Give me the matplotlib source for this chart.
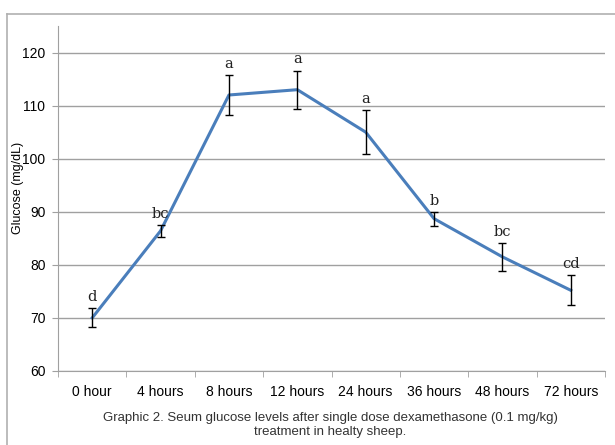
import matplotlib
matplotlib.use('Agg')
import matplotlib.pyplot as plt
from matplotlib.lines import Line2D

# time points, mean glucose, error, significance letters
times = ['0 hour', '4 hours', '8 hours', '12 hours', '24 hours', '36 hours', '48 hours', '72 hours']
glucose = [70.0, 86.4, 112.0, 113.0, 105.0, 88.7, 81.5, 75.2]
err = [1.8, 1.1, 3.7, 3.6, 4.2, 1.3, 2.6, 2.8]
letters = ['d', 'bc', 'a', 'a', 'a', 'b', 'bc', 'cd']
yticks = [60, 70, 80, 90, 100, 110, 120]

plt.rcParams['font.family'] = ['Liberation Sans', 'DejaVu Sans']

fig = plt.figure(figsize=(6.15, 4.45), dpi=100)
ax = fig.add_axes([58/615, 1 - 371/445, 547/615, 345/445])

x = list(range(len(times)))
ax.plot(x, glucose, color='#4a7ebb', lw=2.2, zorder=3)
ax.errorbar(x, glucose, yerr=err, fmt='none', ecolor='black', elinewidth=1.0,
            capsize=3, capthick=1.0, zorder=4)

for xi, g, e, lab in zip(x, glucose, err, letters):
    ax.annotate(lab, (xi, g + e), xytext=(0, 3), textcoords='offset points',
                ha='center', va='bottom', fontsize=10.5, family='DejaVu Serif',
                color='#222222')

ax.set_xlim(-0.5, len(times) - 0.5)
ax.set_ylim(60, 125)
ax.set_yticks(yticks)
ax.set_xticks(x)
ax.set_xticklabels(times, fontsize=10)
ax.tick_params(axis='y', labelsize=10, length=4, color='#a0a0a0', pad=5)
ax.tick_params(axis='x', length=0, pad=10)
# category boundary ticks
ax.set_xticks([i - 0.5 for i in range(len(times) + 1)], minor=True)
ax.tick_params(axis='x', which='minor', length=4, color='#a0a0a0')

ax.grid(axis='y', color='#a0a0a0', lw=1.0)
ax.set_axisbelow(True)
for s in ['top', 'right']:
    ax.spines[s].set_visible(False)
ax.spines['left'].set_color('#a0a0a0')
ax.spines['bottom'].set_color('#a0a0a0')

fig.text(18/615, 1 - 188/445, 'Glucose (mg/dL)', rotation=90, ha='center', va='center', fontsize=9)

fig.text(330/615, 1 - 425/445, 'Graphic 2. Seum glucose levels after single dose dexamethasone (0.1 mg/kg)\ntreatment in healty sheep.',
         ha='center', va='center', fontsize=9.5, color='#333333', linespacing=1.15)

# outer chart border (top and left visible)
fig.add_artist(Line2D([7/615, 1], [1 - 14/445, 1 - 14/445], transform=fig.transFigure, color='#b0b0b0', lw=1.2))
fig.add_artist(Line2D([7/615, 7/615], [0, 1 - 14/445], transform=fig.transFigure, color='#b0b0b0', lw=1.2))

fig.savefig('out.png', dpi=100)
